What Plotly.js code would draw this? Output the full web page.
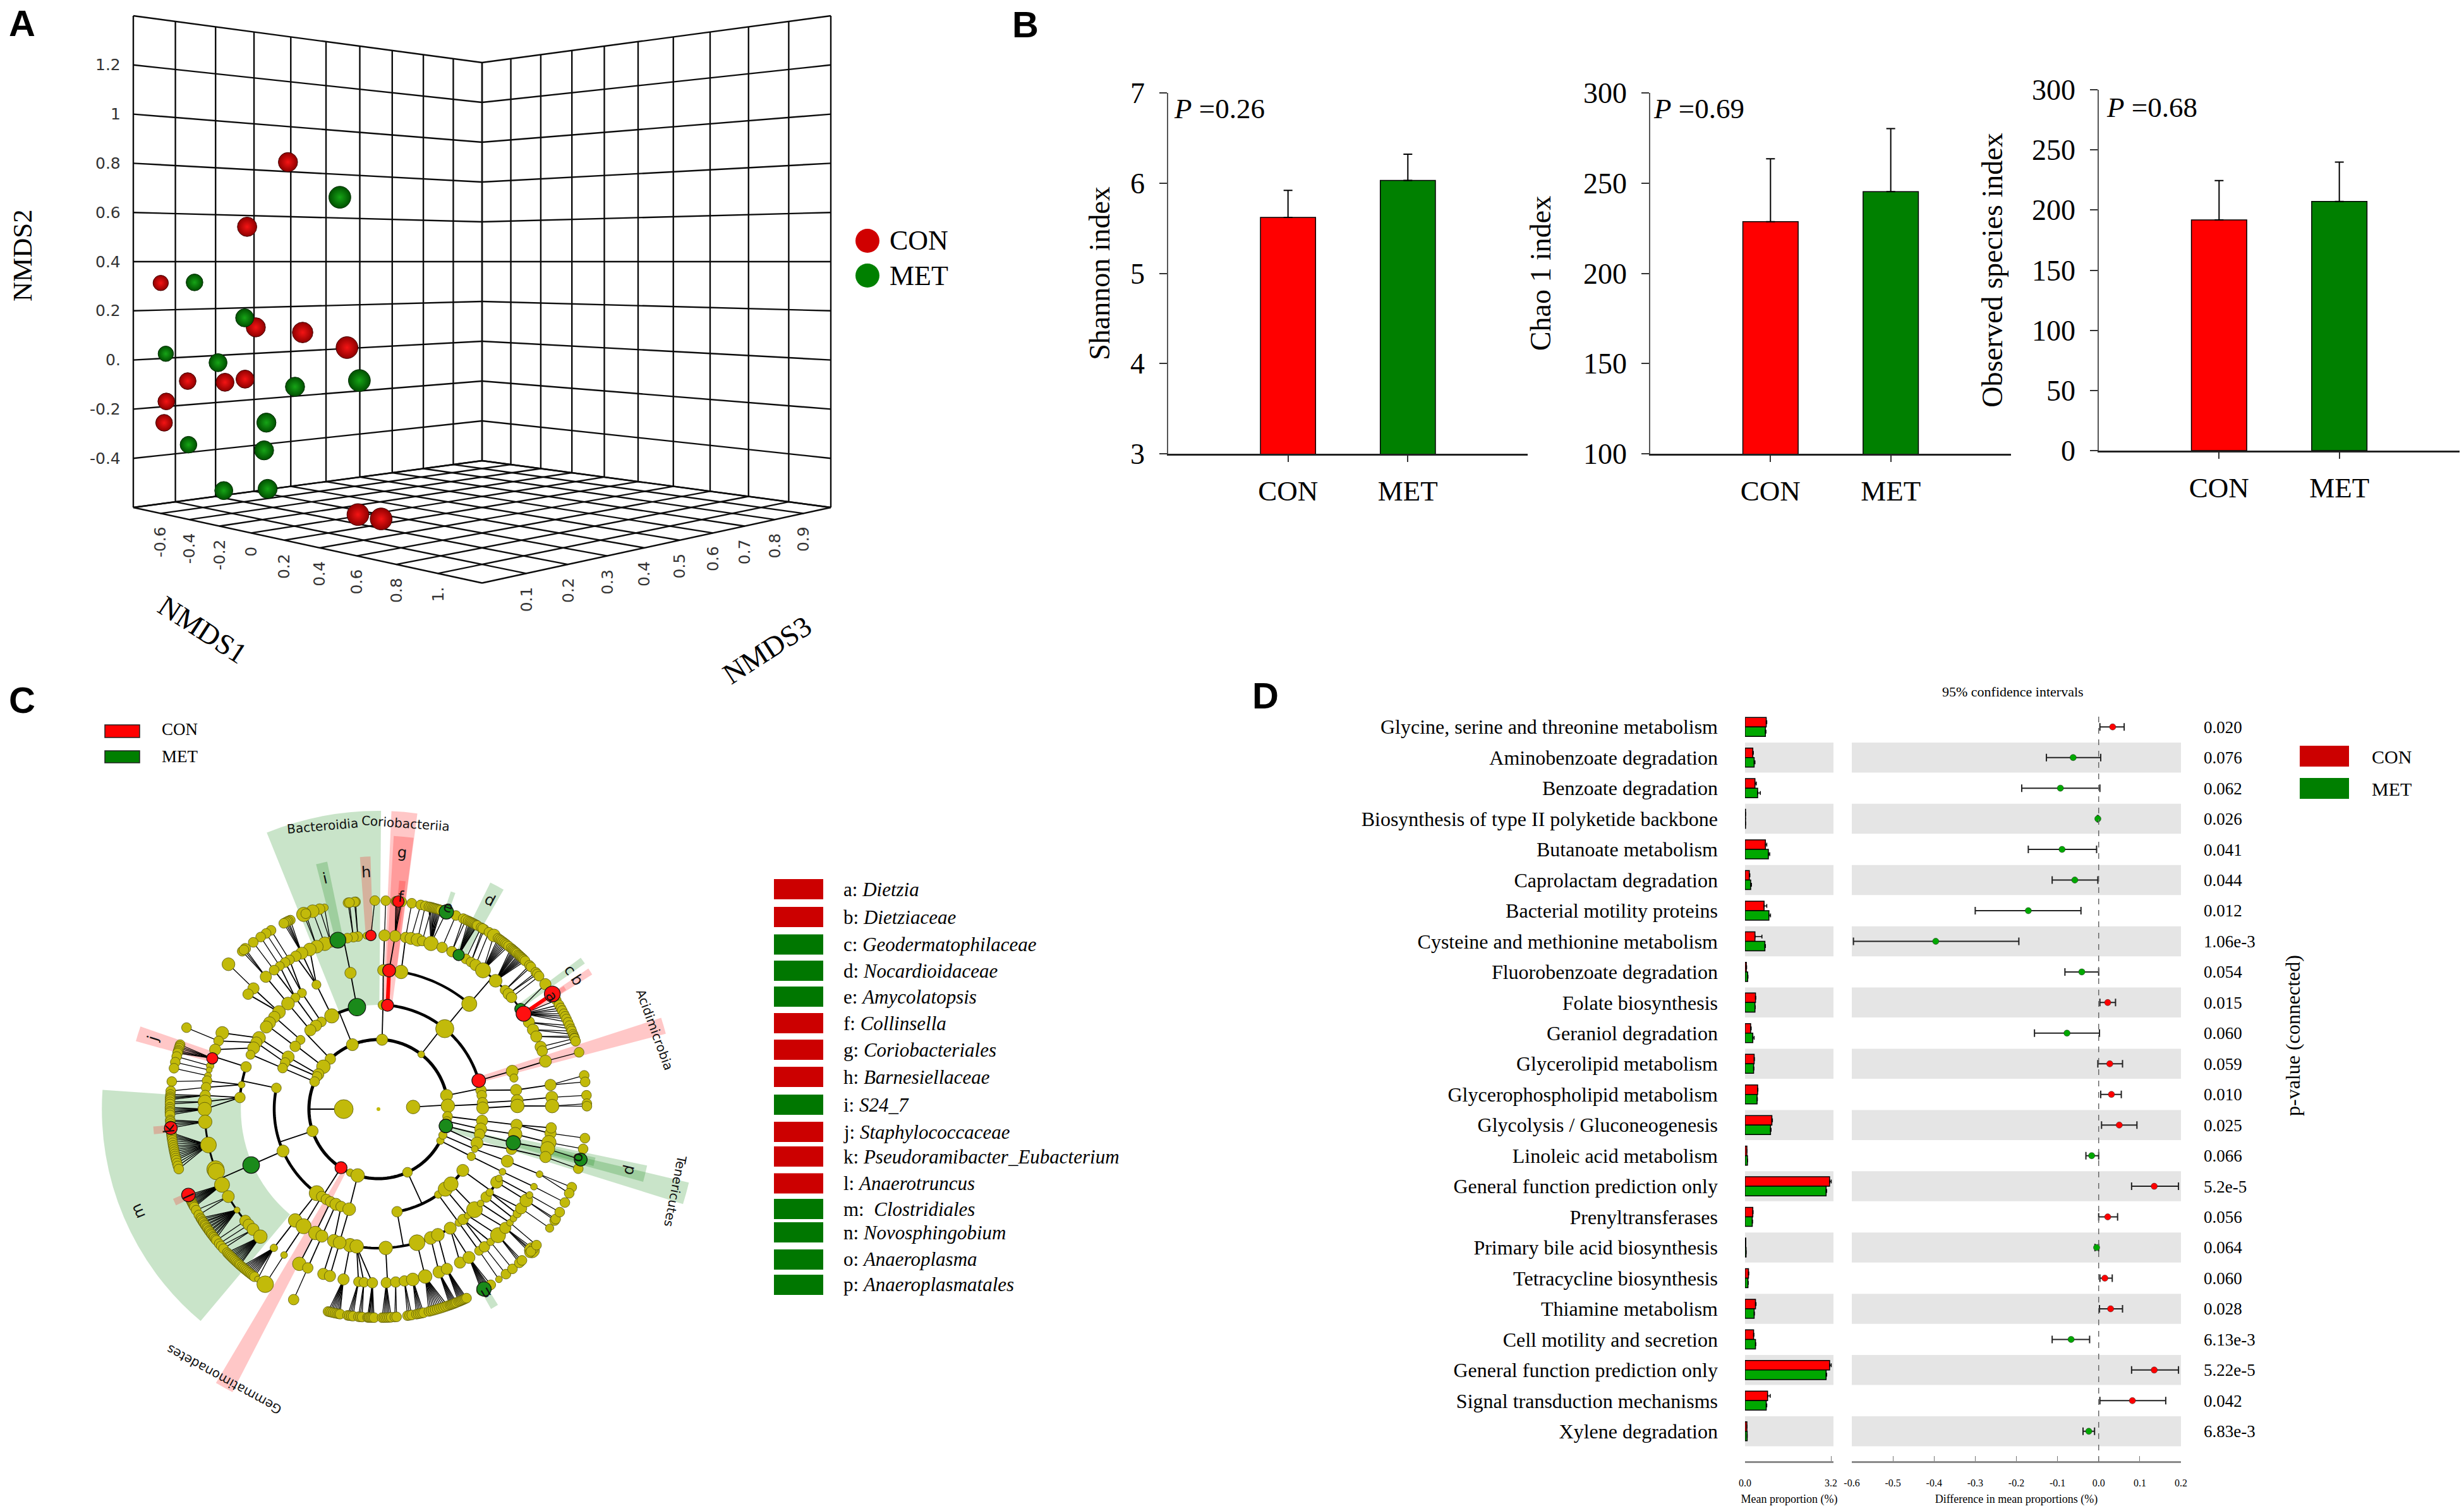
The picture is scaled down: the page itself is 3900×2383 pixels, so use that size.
<!DOCTYPE html>
<html>
<head>
<meta charset="utf-8">
<script src="https://cdn.plot.ly/plotly-3.0.1.min.js"></script>
<style>html,body{margin:0;padding:0;background:#fff}#chart{width:3900px;height:2383px}</style>
</head>
<body>
<div id="chart"></div>
<script>
/* ---------- Panel A data: NMDS ordination ---------- */
const conNmds1 = [-0.30,-0.41,-0.91,-0.39,-0.18,0.02,-0.74,-0.55,-0.49,-0.80,-0.81,0.05,0.113];
const conNmds2 = [0.80,0.54,0.31,0.136,0.12,0.066,-0.095,-0.092,-0.079,-0.179,-0.268,-0.583,-0.60];
const conNmds3 = [0.20,0.14,0.10,0.154,0.19,0.22,0.11,0.136,0.164,0.078,0.076,0.235,0.267];
const metNmds1 = [0.001,-0.72,-0.49,-0.89,-0.57,-0.28,0.054,-0.36,-0.74,-0.37,-0.55,-0.36];
const metNmds2 = [0.65,0.314,0.171,0.012,-0.012,-0.103,-0.062,-0.247,-0.359,-0.359,-0.533,-0.514];
const metNmds3 = [0.21,0.12,0.163,0.106,0.126,0.21,0.237,0.169,0.112,0.167,0.133,0.172];
const nmds1Grid = [-0.8,-0.6,-0.4,-0.2,0,0.2,0.4,0.6,0.8,1,1.2];
const nmds2Grid = [-0.6,-0.4,-0.2,0,0.2,0.4,0.6,0.8,1,1.2,1.4];
const nmds3Grid = [0,0.1,0.2,0.3,0.4,0.5,0.6,0.7,0.8,0.9,1];
const nmds1Labels = ['-0.6','-0.4','-0.2','0','0.2','0.4','0.6','0.8','1.'];
const nmds2Labels = ['-0.4','-0.2','0.','0.2','0.4','0.6','0.8','1','1.2'];
const nmds3Labels = ['0.1','0.2','0.3','0.4','0.5','0.6','0.7','0.8','0.9'];

/* ---------- Panel B data ---------- */
const groups = ['CON','MET'];
const shannon = [5.62,6.03];   const shannonErr = [0.30,0.29];
const chao = [228.6,245.3];    const chaoErr = [34.9,34.9];
const observed = [191.8,207.2]; const observedErr = [32.7,32.7];

/* ---------- Panel C data: taxa key ---------- */
const taxaKey = ['a: <i>Dietzia</i>','b: <i>Dietziaceae</i>','c: <i>Geodermatophilaceae</i>','d: <i>Nocardioidaceae</i>','e: <i>Amycolatopsis</i>','f: <i>Collinsella</i>','g: <i>Coriobacteriales</i>','h: <i>Barnesiellaceae</i>','i: <i>S24_7</i>','j: <i>Staphylococcaceae</i>','k: <i>Pseudoramibacter_Eubacterium</i>','l: <i>Anaerotruncus</i>','m:  <i>Clostridiales</i>','n: <i>Novosphingobium</i>','o: <i>Anaeroplasma</i>','p: <i>Anaeroplasmatales</i>'];
const taxaGroup = ['R','R','G','G','G','R','R','R','G','R','R','R','G','G','G','G'];
/* highlighted sectors: centre angle (deg), angular width, inner and outer radius (clade ring units), group */
const sectorTheta = [203,100.75,85,84.7,84,93,103,62,71,36,33,33,16.3,-15.3,-13.6,-13.7,-59.6,241,162.6,185.4,204.5];
const sectorWidth = [54,22.5,5,4.2,1.6,2.4,2.6,3.4,1.2,1.6,1.6,1.2,3.2,4,3.5,2.2,2,3.4,3.5,2,1.8];
const sectorInner = [3.96,3,3,4,5,5,5,5,6,5,5,6,3,2,4,5,6,2,5,6,6];
const sectorOuter = [7.96,8.58,8.58,7.87,6.6,7.27,7.27,7.27,6.6,7.27,7.27,6.4,8.55,9.18,7.9,6.4,6.6,9.16,7.25,6.5,6.45];
const sectorGroup = ['G','G','R','R','R','R','G','G','G','G','R','R','R','G','G','G','G','R','R','R','R'];
const sectorLetter = ['m','','','g','f','h','i','d','e','c','b','a','','','p','o','n','','j','k','l'];
/* cladogram: [angle, children, group (R/G/0), node diameter]; a plain number is a leaf */
const cladeTree = [
 [180,[
  [11.4,[[10.4,[[7.9,[[8,[9.3,7.5],0,15]],0,15]],0,14],[7.6,[],0,13]],0,16],
  [52,[
    [85,[[85.6,[[84.5,[[84.5,[],'R',15],85.2,85,84,83.6],0,15]],'R',17]],'R',16],
    [50.5,[
      [80.6,[[81,[80.8],0,14]],0,18],
      [49.2,[
        [79.2,[78.3],0,16],[77,[77],0,17],[75.4,[75.2],0,13],
        [72.4,[76,75.5,75,74.6,74.2,73.8,73.4,73,72.6,[71,[],'G',19]],0,19],
        [68.5,[68.2],0,14],[65,[66,65.2],0,14],
        [62.5,[64.5,64,63.6,63.2,62.8,62.4,62,61.7],'G',15],
        [59.8,[60.5],0,13],[57.8,[59.5,60],0,13],[56,[58],0,15],
        [53,[[56.4,[],0,17],55,54.5,54,53.5,53,52.5,52,51.4],0,20],
        [47.6,[50.5,50,49.6,49.2,48.8,48.4,47.8,47.4,47,46.6,46.2,45.8,45.3],0,17],
        [43.2,[43.6,43],0,13],[41.5,[41,40.4],0,15],[40,[39.6],0,14],
        [35.2,[[36.8,[],0,15]],'G',15],
        [33.3,[[33.5,[],'R',21],31.5,30,29,28.2,27.2,26.4,25.6,24.6],'R',20],
        [30,[23.6,22.6],0,15],[27.2,[22,21],0,15],[24.7,[20.5,20],0,15],[21,[19.8],0,15],[19.5,[19],0,14]
      ],0,20]
    ],0,24],
    [15.9,[[15.8,[[16,[15.8],0,16]],0,16],[12.9,[],0,11]],'R',18]
  ],0,9],
  [87,[[87.5,[[88,[[88,[88],0,15]],0,15]],0,13]],0,15],
  [112,[
    [101.9,[[101.6,[
      [92.5,[91],'R',14],[94,[],0,9],[96.8,[96.3,96.6],0,13],[98.3,[98.4,98],0,13],[100.3,[],0,13],
      [103.5,[],'G',21],[105,[],0,8],
      [106,[[105,[],0,10],[106.4,[],0,14]],0,14],[108,[[108.4,[],0,17]],0,18],[110.8,[[111,[],0,19],110.4],0,17]
    ],0,15]],'G',23],
    [116.6,[[116.5,[[113.3,[],0,17],[116.2,[115,115.6,116,116.5,117],0,16],[118.4,[],0,14]],0,12]],0,19]
  ],0,16],
  [133.8,[
    [123.2,[[123.4,[[120.8,[121],0,13],[122.5,[122.6],0,13]],0,12]],0,13],
    [126.9,[[126.7,[[124.6,[124.4],0,12],[126.9,[126.9],0,13]],0,12]],0,15],
    [130.8,[[130.6,[[130.4,[[129.7,[],0,14],130.8,130.2],0,15]],0,17]],0,15]
  ],0,14],
  [142.4,[
    [138.4,[[135.7,[[136,[[136,[],0,17]],0,15],[138.6,[],0,14]],0,17],[138.5,[],0,15]],0,12],
    [143,[[141.6,[],0,16],[143.8,[],0,16]],0,14]
  ],0,18],
  [150,[[150,[[149.2,[[154,[],0,17]],0,17]],0,16]],0,15],
  [152,[[153.5,[[151.4,[[156.9,[[157,[],0,13]],0,13]],0,15]],0,13]],0,13],
  [156.7,[[156.8,[[153.9,[[160,[],0,15]],0,16],[157,[],0,12]],0,13]],0,13],
  [198.4,[
    [168.3,[
      [162.3,[[163,[162,162.5,163,163.6,164,164.4],'R',15],[165.6,[165.4],0,10],[167,[167],0,8],[168.9,[168.7],0,9]],0,14],
      [169.9,[[170.6,[172.4],0,13],[172.8,[175],0,13]],0,9],
      [175.2,[[175.5,[176,176.6,177,177.4],0,14],[177.6,[178,178.6],0,18],[180,[179.5,180,180.6,181,181.6],0,18]],0,14]
    ],0,13],
    [203.7,[[203.7,[
      [184.2,[183,183.4,[185.2,[],'R',17],184,184.6],0,18],
      [191.9,[186.5,187,187.5,188,188.6,189.3,190,190.6,191.2,191.8,192.4,193,193.6,194.2,195,195.8,196.7],0,21],
      [199,[],0,9],[200.3,[],0,23],[201,[],0,22],
      [205.8,[[204.3,[],'R',18],204.8,205.2,205.6,206,206.4,206.8,207.2,207.6,208],0,20],
      [210.2,[209,210.5],0,16],
      [215.5,[211.5,212,212.6,213,213.6,214,214.6,215,215.6,216,216.6,217,217.6,218,218.6],0,8],
      [220,[219],0,15],[221.7,[220.2],0,15],[223.8,[221,222],0,16],
      [227.2,[223.5,224,224.5,225,225.5,226,226.5,227,227.5,228,228.4],0,18]
    ],'G',22]],0,16],
    [233.7,[[233.2,[[233,[229,229.5,230,230.5,231,231.5,232,232.5,233,233.5,[234.6,[],0,8]],0,10]],0,18]],0,20]
  ],0,15],
  [237.4,[
    [237,[[237.4,[[237.1,[[237.1,[],0,22]],0,9]],0,20]],0,14],
    [240,[],0,14],
    [242.7,[[243,[[242.9,[],0,18]],0,18]],0,14],
    [245.9,[[246,[[246,[[246,[],0,14]],0,14]],0,16]],0,16],
    [249,[[251.3,[[251.5,[],0,15]],0,17]],0,14]
  ],'R',16],
  [246,[],0,10],
  [252.6,[[253.7,[[258.2,[[258.4,[256,256.5,257,257.5,258,258.5,259,259.4],0,15]],0,18],[253.8,[[253.8,[],0,15]],0,17]],0,17]],0,18],
  [294.7,[
    [280.3,[
      [261,[[263.4,[261.5,262,262.5,263],0,13],[265.2,[264.5,265,265.5],0,13],[268,[267,267.3,267.6,268,268.4,268.8],0,14]],0,18],
      [273,[[272.6,[271,271.5,272,272.5,273,273.5],0,14],[275.7,[274.5,275],0,14],[278.6,[278,278.6,279.2],0,14],[281.4,[280.5,281,281.5,282,282.5],0,17]],0,18],
      [286.1,[[285.6,[284,284.6,285.2,285.8,286.4,287,287.6,288.2,288.8,289.4],0,18]],0,21],
      [292.1,[[290.4,[290,290.4,290.8,291.2,291.6,292],0,16]],0,17],
      [295.3,[[293.2,[292.6,293,293.4,293.8,294.2,294.6,295],0,15]],0,17],
      [301.1,[[298,[],0,15],[301.4,[[300.4,[],'G',19],299.6,300,300.8,301.2,301.6,302,302.6],0,16]],0,16]
    ],0,14],
    [305,[[305.3,[[305.4,[[305.3,[],0,9]],0,12]],0,10]],0,10],
    [309.9,[[307.5,[[307.6,[307.7],0,14],[310.2,[310],0,10]],0,14],[310,[[313.5,[313,312.5,313.5],0,20]],0,9]],0,19],
    [314.1,[[313.7,[[316.9,[[317.4,[],0,20],316.5,318,317],0,15]],0,21],[317.3,[[319.2,[319.3],0,9]],0,9]],0,19],
    [324,[[320.8,[[321,[],0,9]],0,14],[323.2,[[323,[],0,11],[325.2,[[325.2,[],0,11]],0,15]],0,10],[328.3,[[328.3,[327.7,328.2],0,17]],0,16],[330.1,[[330.4,[330.4],0,9]],0,9]],0,16]
  ],0,13],
  [333,[[333,[[333.2,[[333.5,[333.4],0,9]],0,9]],0,11]],0,10]
 ],0,25],
 [3.5,[
  [2.7,[[3.5,[[3.5,[[3.9,[3.8],0,16]],0,16]],0,14],[0.6,[[1.3,[[1,[1.5,0.8],0,18]],0,18]],0,16]],0,18],
  [-6,[[-6.4,[[-6.5,[[-8,[-8],0,15],[-6.2,[],0,14]],0,15]],0,15]],0,13],
  [-10,[[-11,[[-10.4,[[-11.1,[-11],0,19]],0,18]],0,16]],0,12],
  [-14,[[-14,[[-14,[[-13.2,[[-14,[],'G',17]],0,19]],'G',19]],0,14]],'G',18],
  [-16,[[-19,[[-16.8,[[-16,[-16.6],0,15]],0,14]],0,16]],0,12],
  [-22,[[-22.5,[[-22,[[-22,[-22,-23.8],0,9]],0,16]],0,9]],0,11]
 ],0,18]
];

/* ---------- Panel D data ---------- */
const pathways = ['Glycine, serine and threonine metabolism','Aminobenzoate degradation','Benzoate degradation','Biosynthesis of type II polyketide backbone','Butanoate metabolism','Caprolactam degradation','Bacterial motility proteins','Cysteine and methionine metabolism','Fluorobenzoate degradation','Folate biosynthesis','Geraniol degradation','Glycerolipid metabolism','Glycerophospholipid metabolism','Glycolysis / Gluconeogenesis','Linoleic acid metabolism','General function prediction only','Prenyltransferases','Primary bile acid biosynthesis','Tetracycline biosynthesis','Thiamine metabolism','Cell motility and secretion','General function prediction only','Signal transduction mechanisms','Xylene degradation'];
const pValues = ['0.020','0.076','0.062','0.026','0.041','0.044','0.012','1.06e-3','0.054','0.015','0.060','0.059','0.010','0.025','0.066','5.2e-5','0.056','0.064','0.060','0.028','6.13e-3','5.22e-5','0.042','6.83e-3'];
const meanCon = [0.79,0.29,0.37,0.02,0.76,0.16,0.71,0.37,0.05,0.39,0.21,0.34,0.47,1.00,0.07,3.15,0.29,0.03,0.13,0.39,0.32,3.15,0.84,0.07];
const meanMet = [0.76,0.34,0.47,0.02,0.87,0.21,0.89,0.74,0.10,0.37,0.29,0.32,0.45,0.95,0.09,3.02,0.27,0.04,0.11,0.34,0.39,3.02,0.79,0.08];
const sdCon = [0.02,0.02,0.05,0,0.05,0.02,0.10,0.26,0.01,0.01,0.02,0.01,0.01,0.02,0,0.06,0.01,0,0.01,0.02,0.01,0.06,0.10,0];
const sdMet = [0.02,0.03,0.10,0,0.05,0.03,0.06,0.02,0.01,0.01,0.05,0.01,0.01,0.02,0,0.02,0.01,0,0.01,0.01,0.01,0.02,0.02,0];
const diffMean = [0.034,-0.062,-0.093,-0.002,-0.089,-0.058,-0.171,-0.396,-0.041,0.022,-0.077,0.027,0.031,0.05,-0.017,0.135,0.022,-0.005,0.015,0.029,-0.067,0.135,0.082,-0.024];
const diffLow = [0.003,-0.127,-0.187,-0.003,-0.171,-0.113,-0.30,-0.596,-0.082,0.003,-0.156,-0.002,0.005,0.007,-0.031,0.08,0,-0.009,0.003,0.002,-0.113,0.08,0.003,-0.038];
const diffHigh = [0.062,0.005,0.003,-0.001,-0.005,-0.002,-0.043,-0.194,0,0.041,0.002,0.058,0.055,0.093,0,0.194,0.046,0,0.033,0.058,-0.022,0.194,0.163,-0.01];

/* ---------- page helpers ---------- */
const W = 3900, H = 2383;
const SERIF = 'Liberation Serif', SANS = 'DejaVu Sans';
const fx = p => p / W, fy = p => 1 - p / H;
const domX = (a,b) => [fx(a), fx(b)], domY = (a,b) => [fy(b), fy(a)];
const annotations = [], shapes = [], traces = [];
function note(text, x, y, size, opts) {
  annotations.push(Object.assign({text, x:fx(x), y:fy(y), xref:'paper', yref:'paper', showarrow:false,
    xanchor:'center', yanchor:'middle', font:{family:SERIF, size, color:'#000'}}, opts||{}));
}
function swatch(x0,y0,x1,y1,color,line) {
  shapes.push({type:'rect', xref:'paper', yref:'paper', x0:fx(x0), x1:fx(x1), y0:fy(y0), y1:fy(y1),
    fillcolor:color, line:line||{width:0}});
}
const COL = {R:'#ff1010', G:'#1a8a1a'};

/* ---------- Panel A: perspective box, camera looks at a vertical edge ---------- */
function project(n1,n2,n3) {
  const u = n1 - 0.2, v = (n3 - 0.5) / 0.5;
  const side = (u + v) / 2, depth = (u - v) / 2;
  const f = 1 / (1 - 0.235 * depth);
  return {x: 763 + 552 * side * f, y: 414 + (0.4 - n2) * 389 * f, depth};
}
function pushSeg(xs, ys, a, b) { xs.push(a.x, b.x, null); ys.push(a.y, b.y, null); }
(function wire() {
  const xs = [], ys = [];
  const n1a = nmds1Grid[0], n1b = nmds1Grid[10], n2a = nmds2Grid[0], n2b = nmds2Grid[10], n3a = nmds3Grid[0], n3b = nmds3Grid[10];
  nmds2Grid.forEach(l => {
    pushSeg(xs, ys, project(n1a,l,n3a), project(n1a,l,n3b));
    pushSeg(xs, ys, project(n1a,l,n3b), project(n1b,l,n3b));
  });
  nmds3Grid.forEach(c => {
    pushSeg(xs, ys, project(n1a,n2a,c), project(n1a,n2b,c));
    pushSeg(xs, ys, project(n1a,n2a,c), project(n1b,n2a,c));
  });
  nmds1Grid.forEach(c => {
    pushSeg(xs, ys, project(c,n2a,n3b), project(c,n2b,n3b));
    pushSeg(xs, ys, project(c,n2a,n3a), project(c,n2a,n3b));
  });
  traces.push({type:'scatter', mode:'lines', x:xs, y:ys, xaxis:'x', yaxis:'y', hoverinfo:'skip', showlegend:false,
    line:{color:'#0c0c0c', width:2.4}});
})();
function spheres(name, a, b, c, edge, centre, rim) {
  const pts = a.map((_,i) => project(a[i], b[i], c[i]));
  traces.push({type:'scatter', mode:'markers', name, x:pts.map(p=>p.x), y:pts.map(p=>p.y), xaxis:'x', yaxis:'y', showlegend:false,
    marker:{size:pts.map(p=>29+30*p.depth), opacity:1, color:edge, gradient:{type:'radial', color:centre}, line:{color:rim, width:1}}});
}
spheres('CON', conNmds1, conNmds2, conNmds3, '#900000', '#f41414', '#400000');
spheres('MET', metNmds1, metNmds2, metNmds3, '#005000', '#16a416', '#002800');
function sceneNote(text, pt, opts) {
  annotations.push(Object.assign({text, x:pt.x, y:pt.y, xref:'x', yref:'y', showarrow:false,
    font:{family:SANS, size:25, color:'#333'}}, opts));
}
nmds2Labels.forEach((t,i) => sceneNote(t, project(-0.8, nmds2Grid[i+1], 0), {xanchor:'right', yanchor:'middle', xshift:-18}));
nmds1Labels.forEach((t,i) => sceneNote(t, project(nmds1Grid[i+1], -0.6, 0), {xanchor:'center', yanchor:'top', yshift:-19, textangle:-90}));
nmds3Labels.forEach((t,i) => sceneNote(t, project(1.2, -0.6, nmds3Grid[i+1]), {xanchor:'center', yanchor:'top', yshift:-19, textangle:-90}));
note('NMDS2', 36, 404, 43, {textangle:-90});
note('NMDS1', 321, 996, 46, {textangle:33});
note('NMDS3', 1214, 1028, 46, {textangle:-33});
[['CON',381,'#d00000'],['MET',436,'#008000']].forEach(r => {
  shapes.push({type:'circle', xref:'paper', yref:'paper', x0:fx(1354), x1:fx(1392), y0:fy(r[1]-19), y1:fy(r[1]+19), fillcolor:r[2], line:{width:0}});
  note(r[0], 1406, r[1], 44, {xanchor:'left'});
});

/* ---------- Panel B ---------- */
function indexPanel(id, vals, errs, domx, domy, yrange, dtick, title, standoff, pText, pX, pY) {
  traces.push({type:'bar', x:groups, y:vals, xaxis:'x'+id, yaxis:'y'+id, width:0.46, showlegend:false,
    marker:{color:['#ff0000','#008000'], line:{color:'#000', width:1.5}},
    error_y:{type:'data', symmetric:false, array:errs, arrayminus:[0,0], color:'#000', thickness:2, width:7}});
  layout['xaxis'+id] = {domain:domX(domx[0],domx[1]), anchor:'y'+id, type:'category', range:[-1,2], showline:true,
    linecolor:'#222', linewidth:3, ticks:'outside', ticklen:10, tickcolor:'#333', tickwidth:1.5, showgrid:false, zeroline:false,
    ticklabelstandoff:7, tickfont:{family:SERIF, size:45, color:'#000'}};
  layout['yaxis'+id] = {domain:domY(domy[0],domy[1]), anchor:'x'+id, range:yrange, dtick, tick0:yrange[0], showline:true,
    linecolor:'#555', linewidth:1.5, ticks:'outside', ticklen:12, tickcolor:'#333', tickwidth:1.5, showgrid:false, zeroline:false,
    ticklabelstandoff:14, tickfont:{family:SERIF, size:46, color:'#000'},
    title:{text:title, standoff, font:{family:SERIF, size:46, color:'#000'}}};
  note('<i>P</i> ='+pText, pX, pY, 45, {xanchor:'left'});
}
const layout = {
  width:W, height:H, margin:{l:0,r:0,t:0,b:0}, paper_bgcolor:'#fff', plot_bgcolor:'rgba(0,0,0,0)', showlegend:false,
  barmode:'overlay',
  xaxis:{domain:domX(0,1600), range:[0,1600], visible:false, fixedrange:true},
  yaxis:{domain:domY(0,1100), range:[1100,0], visible:false, fixedrange:true}
};
indexPanel('2', shannon, shannonErr, [1849,2418], [147,718], [3,7], 1, 'Shannon index', 18, '0.26', 1856, 172);
indexPanel('3', chao, chaoErr, [2612,3183], [147,718], [100,300], 50, 'Chao 1 index', 37, '0.69', 2615, 172);
indexPanel('4', observed, observedErr, [3322,3893], [142,713], [0,300], 50, 'Observed species index', 32, '0.68', 3332, 170);

/* ---------- Panel C: cladogram on a polar subplot ---------- */
const RING = 55, POLAR_CX = 599, POLAR_CY = 1755, POLAR_R = 520;
const nodes = [], arcs = {}, spokes = {r:[], t:[]}, fans = {r:[], t:[]}, redEdges = {r:[], t:[]};
const defaultSize = [0,25,15,15,15,14,13];
const NODE_SCALE = 1.2;
const push = (b, rs, ts) => { b.r.push(...rs, null); b.t.push(...ts, null); };
function walk(raw, level) {
  const n = Array.isArray(raw) ? raw : [raw];
  const theta = n[0], kids = (n[1] || []).map(k => Array.isArray(k) ? k : [k]), flag = n[2] || null;
  const r = level * RING, childLevel = level + 1, childR = childLevel * RING;
  if (kids.length) {
    const useArc = (kids.length >= 2 && childLevel <= 4) || (kids.length >= 4 && childLevel === 5);
    if (useArc) {
      push(spokes, [r, childR], [theta, theta]);
      const ts = kids.map(k => k[0]).concat(theta);
      const lo = Math.min(...ts), hi = Math.max(...ts), arcT = [], arcR = [];
      for (let t = lo; t < hi; t += 1.5) { arcT.push(t); arcR.push(childR); }
      arcT.push(hi); arcR.push(childR);
      const b = arcs[childLevel] || (arcs[childLevel] = {r:[], t:[]});
      push(b, arcR, arcT);
    } else {
      kids.forEach(k => push(childLevel === 6 ? fans : spokes, [r, childR], [theta, k[0]]));
    }
    kids.forEach(k => {
      if (flag === 'R' && k[2] === 'R') push(redEdges, [r, childR], [theta, k[0]]);
      walk(k, childLevel);
    });
  }
  nodes.push({r, theta, flag, size:(n[3] || defaultSize[level]) * NODE_SCALE});
}
cladeTree.forEach(c => walk(c, 1));
layout.polar = {
  domain:{x:domX(POLAR_CX-POLAR_R, POLAR_CX+POLAR_R), y:domY(POLAR_CY-POLAR_R, POLAR_CY+POLAR_R)},
  bgcolor:'rgba(0,0,0,0)', barmode:'overlay',
  radialaxis:{visible:false, range:[0,POLAR_R]},
  angularaxis:{visible:false, rotation:0, direction:'counterclockwise'}
};
['G','R'].forEach(g => {
  const idx = sectorGroup.map((s,i) => s === g ? i : -1).filter(i => i >= 0);
  traces.push({type:'barpolar', subplot:'polar', theta:idx.map(i=>sectorTheta[i]), width:idx.map(i=>sectorWidth[i]),
    base:idx.map(i=>sectorInner[i]*RING), r:idx.map(i=>(sectorOuter[i]-sectorInner[i])*RING), showlegend:false, hoverinfo:'skip',
    marker:{color:g==='G'?'rgba(0,128,0,0.21)':'rgba(255,0,0,0.22)', line:{width:0}}});
});
const arcWidth = {2:5, 3:4.5, 4:4, 5:3};
Object.keys(arcs).forEach(l => traces.push({type:'scatterpolar', subplot:'polar', mode:'lines', r:arcs[l].r, theta:arcs[l].t,
  line:{color:'#000', width:arcWidth[l]}, showlegend:false, hoverinfo:'skip'}));
traces.push({type:'scatterpolar', subplot:'polar', mode:'lines', r:spokes.r, theta:spokes.t, line:{color:'#000', width:1.8}, showlegend:false, hoverinfo:'skip'});
traces.push({type:'scatterpolar', subplot:'polar', mode:'lines', r:fans.r, theta:fans.t, line:{color:'#000', width:1.3}, showlegend:false, hoverinfo:'skip'});
traces.push({type:'scatterpolar', subplot:'polar', mode:'lines', r:redEdges.r, theta:redEdges.t, line:{color:'#ff0000', width:6}, showlegend:false, hoverinfo:'skip'});
const plain = nodes.filter(n => !n.flag), flagged = nodes.filter(n => n.flag);
traces.push({type:'scatterpolar', subplot:'polar', mode:'markers', r:plain.map(n=>n.r), theta:plain.map(n=>n.theta), showlegend:false,
  marker:{size:plain.map(n=>n.size), opacity:1, color:'#c2ba0a', line:{color:'#55550a', width:0.8}}});
traces.push({type:'scatterpolar', subplot:'polar', mode:'markers', r:flagged.map(n=>n.r), theta:flagged.map(n=>n.theta), showlegend:false,
  marker:{size:flagged.map(n=>n.size), opacity:1, color:flagged.map(n=>COL[n.flag]), line:{color:'#111', width:1.2}}});
traces.push({type:'scatterpolar', subplot:'polar', mode:'markers', r:[0], theta:[0], showlegend:false, marker:{size:6, color:'#c2ba0a'}});
sectorLetter.forEach((t,i) => {
  if (!t) return;
  const th = sectorTheta[i] * Math.PI / 180, rr = (sectorOuter[i] - 0.45) * RING;
  note(t, POLAR_CX + rr*Math.cos(th), POLAR_CY - rr*Math.sin(th), 24, {textangle:90-sectorTheta[i], font:{family:SANS, size:24, color:'#111'}});
});
[['Bacteroidia',511,1307,-5],['Coriobacteriia',642,1303,4],['Acidimicrobia',1036,1629,70],['Tenericutes',1069,1884,101],['Gemmatimonadetes',355,2183,209]].forEach(a =>
  note(a[0], a[1], a[2], 20, {textangle:a[3], font:{family:SANS, size:20, color:'#111'}}));
swatch(166,1147,221,1167,'#ff0000',{color:'#222',width:1.5});
swatch(166,1188,221,1207,'#007f00',{color:'#222',width:1.5});
note('CON',254,1154,27,{xanchor:'left'});
note('MET',254,1197,27,{xanchor:'left'});
const keyRows = [1407,1451,1494.5,1536,1577,1619,1661,1704,1748,1791,1830,1872.5,1913,1950,1993,2033];
taxaKey.forEach((t,i) => {
  swatch(1225,keyRows[i]-16,1303,keyRows[i]+16, taxaGroup[i]==='R'?'#cc0000':'#007700');
  note(t,1333,keyRows[i],31,{xanchor:'left'});
});

/* ---------- Panel D ---------- */
const rows = pathways.map((_,i)=>i);
const dDomY = domY(1126,2289), dRange = [23.5,-0.5], AXIS_Y = (H-2313)/H;
const GRN = '#00a800';
traces.push({type:'bar', orientation:'h', y:rows, x:meanCon, width:0.31, offset:-0.31, xaxis:'x5', yaxis:'y5', showlegend:false, name:'CON',
  marker:{color:'#ff0000', line:{color:'#000', width:1.5}}, error_x:{type:'data', symmetric:false, array:sdCon, arrayminus:rows.map(()=>0), color:'#000', thickness:1.5, width:3}});
traces.push({type:'bar', orientation:'h', y:rows, x:meanMet, width:0.31, offset:0, xaxis:'x5', yaxis:'y5', showlegend:false, name:'MET',
  marker:{color:GRN, line:{color:'#000', width:1.5}}, error_x:{type:'data', symmetric:false, array:sdMet, arrayminus:rows.map(()=>0), color:'#000', thickness:1.5, width:3}});
traces.push({type:'scatter', mode:'markers', y:rows, x:diffMean, xaxis:'x6', yaxis:'y6', showlegend:false,
  marker:{size:10, color:diffMean.map(v=>v>0?'#ff0000':GRN), line:{color:'#222', width:0.5}},
  error_x:{type:'data', symmetric:false, array:diffHigh.map((h,i)=>h-diffMean[i]), arrayminus:diffLow.map((l,i)=>diffMean[i]-l), color:'#222', thickness:2, width:6}});
const smallAxis = {showline:true, linecolor:'#8a8a8a', linewidth:3, anchor:'free', position:AXIS_Y, ticks:'inside', ticklen:8, tickcolor:'#777', tickwidth:1,
  ticklabelstandoff:18, tickfont:{family:SERIF, size:16, color:'#000'}, showgrid:false, zeroline:false};
layout.xaxis5 = Object.assign({}, smallAxis, {domain:domX(2762,2902), range:[0,3.294], tickvals:[0,3.2], ticktext:['0.0','3.2'],
  title:{text:'Mean proportion (%)', standoff:12, font:{family:SERIF, size:18, color:'#000'}}});
layout.xaxis6 = Object.assign({}, smallAxis, {domain:domX(2931,3452), range:[-0.6,0.2], tickvals:[-0.6,-0.5,-0.4,-0.3,-0.2,-0.1,0,0.1,0.2], ticktext:['-0.6','-0.5','-0.4','-0.3','-0.2','-0.1','0.0','0.1','0.2'],
  title:{text:'Difference in mean proportions (%)', standoff:12, font:{family:SERIF, size:18, color:'#000'}}});
layout.yaxis5 = {domain:dDomY, anchor:'x5', range:dRange, tickvals:rows, ticktext:pathways, ticks:'', ticklabelstandoff:42, showline:false, showgrid:false, zeroline:false,
  tickfont:{family:SERIF, size:32, color:'#000'}};
layout.yaxis6 = {domain:dDomY, anchor:'x6', side:'right', range:dRange, tickvals:rows, ticktext:pValues, ticks:'', ticklabelstandoff:35, showline:false, showgrid:false, zeroline:false,
  tickfont:{family:SERIF, size:27, color:'#000'}};
rows.filter(i => i % 2 === 1).forEach(i => {
  [['x5 domain','y5'],['x6 domain','y6']].forEach(a => shapes.push({type:'rect', layer:'below', xref:a[0], yref:a[1], x0:0, x1:1, y0:i-0.49, y1:i+0.49, fillcolor:'#e5e5e5', line:{width:0}}));
});
shapes.push({type:'line', xref:'x6', yref:'paper', x0:0, x1:0, y0:AXIS_Y, y1:fy(1126), line:{color:'#666', width:1.5, dash:'dash'}});
note('95% confidence intervals',3186,1095,22);
note('p-value (connected)',3629,1639,32,{textangle:-90});
swatch(3640,1180,3718,1213,'#cc0000');
swatch(3640,1231,3718,1264,'#007f00');
note('CON',3752,1197,30,{xanchor:'left'});
note('MET',3752,1248,30,{xanchor:'left'});

/* ---------- panel letters ---------- */
[['A',12,36],['B',1600,38],['C',12,1107],['D',1980,1100]].forEach(a =>
  note(a[0],a[1],a[2],58,{xanchor:'left', font:{family:'Liberation Sans', size:58, color:'#000', weight:700}}));

layout.annotations = annotations;
layout.shapes = shapes;
Plotly.newPlot('chart', traces, layout, {displayModeBar:false, responsive:false});
</script>
</body>
</html>
